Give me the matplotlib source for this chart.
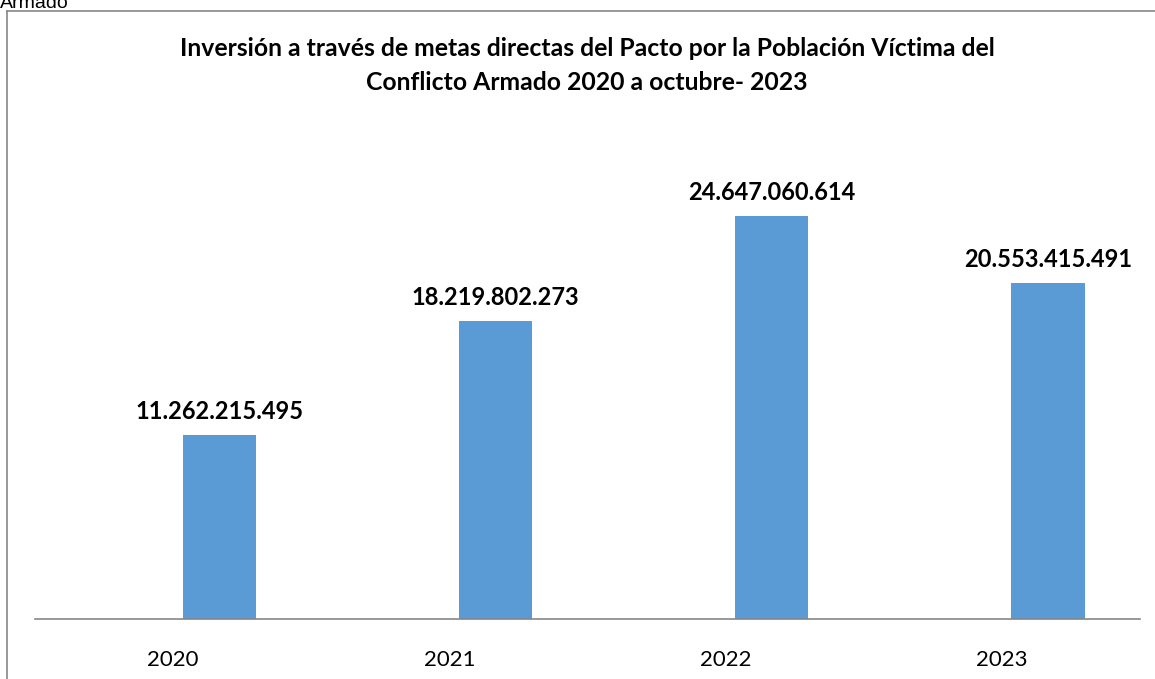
import matplotlib.pyplot as plt
import numpy as np
from matplotlib.lines import Line2D

years = ['2020', '2021', '2022', '2023']
inversion = [11262215495, 18219802273, 24647060614, 20553415491]
labels = ['11.262.215.495', '18.219.802.273', '24.647.060.614', '20.553.415.491']

plt.rcParams['font.family'] = ['Lato', 'DejaVu Sans']

fig = plt.figure(figsize=(11.55, 6.79), dpi=100)
fig.patch.set_facecolor('white')

# outer chart border (cropped at right and bottom)
fig.add_artist(Line2D([7 / 1155, 1.0], [1 - 11 / 679] * 2, color='#868686', lw=1.2))
fig.add_artist(Line2D([7 / 1155] * 2, [0.0, 1 - 11 / 679], color='#868686', lw=1.2))
fig.text(0.0, 1 - 4 / 679, 'Armado', fontsize=14, family='Liberation Sans',
         ha='left', va='center')

ax = fig.add_axes([35 / 1155, 1 - 619 / 679, 1105 / 1155, 490 / 679])
x = np.arange(len(years))
ax.bar(x + 0.167, inversion, width=0.265, color='#5B9BD5')
for xi, v, lab in zip(x, inversion, labels):
    ax.text(xi + 0.167, v + 0.75e9, lab, ha='center', va='bottom',
            fontsize=17, fontweight='bold')

ax.set_xlim(-0.5, 3.5)
ax.set_ylim(0, 30e9)
ax.set_xticks(x)
ax.set_xticklabels(years, fontsize=16)
ax.tick_params(axis='x', length=0, pad=22)
ax.set_yticks([])
for s in ['top', 'right', 'left']:
    ax.spines[s].set_visible(False)
ax.spines['bottom'].set_color('#868686')
ax.spines['bottom'].set_linewidth(1.2)

fig.text(587 / 1155, 1 - 48 / 679,
         'Inversión a través de metas directas del Pacto por la Población Víctima del',
         ha='center', va='center', fontsize=17.8, fontweight='bold')
fig.text(587 / 1155, 1 - 82 / 679, 'Conflicto Armado 2020 a octubre- 2023',
         ha='center', va='center', fontsize=17.8, fontweight='bold')

plt.savefig('out.png', dpi=100, facecolor='white')
